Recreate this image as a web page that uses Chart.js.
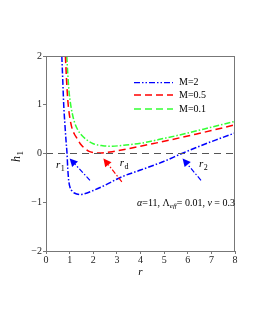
<!DOCTYPE html>
<html>
<head>
<meta charset="utf-8">
<script src="https://cdn.jsdelivr.net/npm/chart.js@4"></script>
<style>
  html, body { margin: 0; padding: 0; background: #fff; }
  #wrap { width: 255px; height: 330px; }
</style>
</head>
<body>
<div id="wrap"><canvas id="hChart" width="255" height="330"></canvas></div>
<script>
// values
const xTicks = [0, 1, 2, 3, 4, 5, 6, 7, 8];
const yTicks = [-2, -1, 0, 1, 2];

const rBlue = [0.67, 0.71, 0.75, 0.8, 0.85, 0.89, 0.92, 0.96, 1.02, 1.1, 1.2, 1.3, 1.45, 1.6, 2.0, 2.5, 3.2, 4, 5, 5.75, 6.5, 7.2, 8];
const hBlue = [2.0, 1.5, 1.0, 0.6, 0.25, 0.0, -0.3, -0.55, -0.7, -0.77, -0.81, -0.83, -0.84, -0.83, -0.76, -0.65, -0.48, -0.34, -0.16, 0.0, 0.15, 0.28, 0.42];

const rRed = [0.82, 0.86, 0.9, 0.95, 1.02, 1.1, 1.2, 1.3, 1.45, 1.6, 1.8, 2.0, 2.3, 2.7, 3.2, 4, 5, 6, 7, 8];
const hRed = [2.0, 1.6, 1.25, 0.95, 0.7, 0.52, 0.4, 0.32, 0.2, 0.12, 0.05, 0.02, 0.01, 0.03, 0.07, 0.15, 0.25, 0.36, 0.47, 0.59];

const rGreen = [0.88, 0.92, 0.97, 1.03, 1.1, 1.2, 1.35, 1.5, 1.7, 2.0, 2.4, 2.8, 3.3, 4, 5, 6, 7, 8];
const hGreen = [2.0, 1.65, 1.3, 1.05, 0.85, 0.65, 0.48, 0.38, 0.29, 0.2, 0.16, 0.15, 0.17, 0.21, 0.31, 0.42, 0.54, 0.66];

const rZero = [0, 8];
const hZero = [0, 0];

const seriesNames = ["M=2", "M=0.5", "M=0.1"];
const seriesColors = ["#0000ff", "#ff0000", "#33ff33"];

// arrows: [tailR, tailH, headR, headH, colour index]
const arrows = [
  [1.86, -0.55, 1.0, -0.1, 0],
  [3.21, -0.58, 2.43, -0.1, 1],
  [6.56, -0.55, 5.78, -0.1, 0]
];
// point labels: [text, subscript, r, h]
const rootLabels = [
  ["r", "1", 0.55, -0.24],
  ["r", "d", 3.25, -0.2],
  ["r", "2", 6.6, -0.22]
];

const serif = "'Liberation Serif', 'DejaVu Serif', serif";

function toXY(xs, ys) {
  return xs.map((x, i) => ({ x: x, y: ys[i] }));
}

function drawSub(ctx, base, sub, x, y, size, italicBase) {
  ctx.font = (italicBase ? "italic " : "") + size + "px " + serif;
  ctx.fillText(base, x, y);
  const w = ctx.measureText(base).width;
  ctx.font = (Math.round(size * 0.72)) + "px " + serif;
  ctx.fillText(sub, x + w + 0.5, y + size * 0.3);
}

const extras = {
  id: "extras",
  afterDatasetsDraw(chart) {
    const ctx = chart.ctx;
    const xs = chart.scales.x, ys = chart.scales.y;
    const a = chart.chartArea;
    ctx.save();

    // frame
    ctx.strokeStyle = "#777";
    ctx.lineWidth = 1;
    ctx.strokeRect(a.left + 0.5, a.top + 0.5, a.right - a.left - 1, a.bottom - a.top);

    // arrows
    arrows.forEach(ar => {
      const x1 = xs.getPixelForValue(ar[0]), y1 = ys.getPixelForValue(ar[1]);
      const x2 = xs.getPixelForValue(ar[2]), y2 = ys.getPixelForValue(ar[3]);
      const col = seriesColors[ar[4]];
      const ang = Math.atan2(y2 - y1, x2 - x1);
      const hl = 8;
      const bx = x2 - hl * Math.cos(ang), by = y2 - hl * Math.sin(ang);
      ctx.strokeStyle = col;
      ctx.lineWidth = 1.2;
      ctx.setLineDash([5, 2, 1.5, 2]);
      ctx.beginPath();
      ctx.moveTo(x1, y1);
      ctx.lineTo(bx, by);
      ctx.stroke();
      ctx.setLineDash([]);
      ctx.fillStyle = col;
      ctx.beginPath();
      ctx.moveTo(x2, y2);
      ctx.lineTo(bx + 4 * Math.sin(ang), by - 4 * Math.cos(ang));
      ctx.lineTo(bx - 4 * Math.sin(ang), by + 4 * Math.cos(ang));
      ctx.closePath();
      ctx.fill();
    });

    // root labels
    ctx.fillStyle = "#000";
    ctx.textBaseline = "middle";
    ctx.textAlign = "left";
    rootLabels.forEach(l => {
      drawSub(ctx, l[0], l[1], xs.getPixelForValue(l[2]) - 3, ys.getPixelForValue(l[3]), 11, true);
    });

    // legend
    const legY = [82.7, 95, 109];
    const legDash = [[6, 2, 1.5, 2, 1.5, 2], [7, 4], [7, 4]];
    seriesNames.forEach((n, i) => {
      ctx.strokeStyle = seriesColors[i];
      ctx.lineWidth = 1.3;
      ctx.setLineDash(legDash[i]);
      ctx.beginPath();
      ctx.moveTo(134, legY[i]);
      ctx.lineTo(173, legY[i]);
      ctx.stroke();
      ctx.setLineDash([]);
      ctx.fillStyle = "#000";
      ctx.font = "10px " + serif;
      ctx.fillText(n, 179, legY[i]);
    });

    // parameter note
    let x = 137;
    const y = 203;
    ctx.font = "italic 10px " + serif;
    ctx.fillText("α", x, y); x += ctx.measureText("α").width;
    ctx.font = "10px " + serif;
    ctx.fillText("=11, Λ", x, y); x += ctx.measureText("=11, Λ").width;
    ctx.font = "italic 7px " + serif;
    ctx.fillText("eff", x, y + 3); x += ctx.measureText("eff").width;
    ctx.font = "10px " + serif;
    ctx.fillText("= 0.01, ", x, y); x += ctx.measureText("= 0.01, ").width;
    ctx.font = "italic 10px " + serif;
    ctx.fillText("ν", x, y); x += ctx.measureText("ν").width;
    ctx.font = "10px " + serif;
    ctx.fillText(" = 0.3", x, y);

    // axis titles
    ctx.textAlign = "center";
    ctx.font = "italic 11px " + serif;
    ctx.fillText("r", (a.left + a.right) / 2, 272);
    ctx.translate(17, 157);
    ctx.rotate(-Math.PI / 2);
    ctx.textAlign = "left";
    drawSub(ctx, "h", "1", -5, 0, 12, true);

    ctx.restore();
  }
};

new Chart(document.getElementById("hChart"), {
  type: "line",
  data: {
    datasets: [
      {
        data: toXY(rZero, hZero),
        borderColor: "#555",
        borderDash: [7, 5],
        borderWidth: 1.2,
        pointRadius: 0
      },
      {
        label: seriesNames[0],
        data: toXY(rBlue, hBlue),
        borderColor: seriesColors[0],
        borderDash: [6, 2, 1.5, 2],
        borderWidth: 1.5,
        cubicInterpolationMode: "monotone",
        pointRadius: 0
      },
      {
        label: seriesNames[1],
        data: toXY(rRed, hRed),
        borderColor: seriesColors[1],
        borderDash: [7, 4],
        borderWidth: 1.5,
        cubicInterpolationMode: "monotone",
        pointRadius: 0
      },
      {
        label: seriesNames[2],
        data: toXY(rGreen, hGreen),
        borderColor: seriesColors[2],
        borderDash: [6, 2, 1.5, 2],
        borderWidth: 1.5,
        cubicInterpolationMode: "monotone",
        pointRadius: 0
      }
    ]
  },
  options: {
    responsive: false,
    animation: false,
    parsing: false,
    layout: { padding: { left: 0, top: 56, right: 20, bottom: 49 } },
    plugins: { legend: { display: false }, tooltip: { enabled: false } },
    scales: {
      x: {
        type: "linear",
        min: 0,
        max: 8,
        afterBuildTicks(scale) { scale.ticks = xTicks.map(v => ({ value: v })); },
        afterFit(scale) { scale.height = 30; },
        ticks: { color: "#222", font: { family: serif, size: 10 }, padding: 0 },
        grid: { drawOnChartArea: false, color: "#777", tickLength: 3 },
        border: { color: "#777" }
      },
      y: {
        type: "linear",
        min: -2,
        max: 2,
        afterBuildTicks(scale) { scale.ticks = yTicks.map(v => ({ value: v })); },
        afterFit(scale) { scale.width = 46; },
        ticks: {
          color: "#222",
          font: { family: serif, size: 10 },
          padding: 1,
          callback: v => (v < 0 ? "\u2212" + Math.abs(v) : String(v))
        },
        grid: { drawOnChartArea: false, color: "#777", tickLength: 3 },
        border: { color: "#777" }
      }
    }
  },
  plugins: [extras]
});
</script>
</body>
</html>
